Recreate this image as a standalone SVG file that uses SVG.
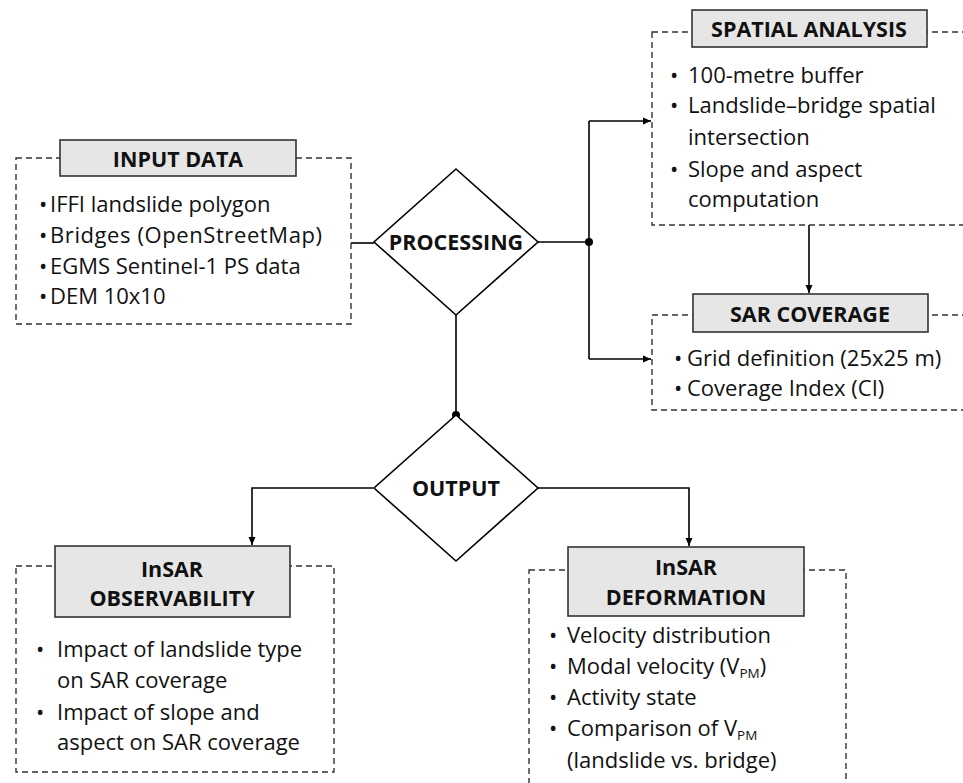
<svg xmlns="http://www.w3.org/2000/svg" width="963" height="783" viewBox="0 0 963 783">
<defs>
<marker id="arr" markerWidth="10" markerHeight="10" refX="9" refY="5" orient="auto" markerUnits="userSpaceOnUse">
<path d="M1,1.5 L9,5 L1,8.5 Z" fill="#000"/>
</marker>
<style>
.dash{fill:none;stroke:#333;stroke-width:1.4;stroke-dasharray:6 4}
.title{fill:#e6e6e6;stroke:#333;stroke-width:1.6}
.tt{font-family:"Open Sans","Noto Sans",sans-serif;font-weight:bold;font-size:21.5px;fill:#111;text-anchor:middle}
.tx{font-family:"Open Sans","Noto Sans",sans-serif;font-size:22px;fill:#111}
.dia{fill:#fff;stroke:#000;stroke-width:1.6}
.ln{fill:none;stroke:#000;stroke-width:1.6}
.sub{font-size:13.5px}
</style>
</defs>
<rect width="963" height="783" fill="#fff"/>

<g id="connectors">
<line class="ln" x1="351" y1="243" x2="374" y2="243"/>
<line class="ln" x1="538" y1="242" x2="589" y2="242"/>
<polyline class="ln" points="589,121 589,359"/>
<line class="ln" x1="589" y1="121" x2="651" y2="121" marker-end="url(#arr)"/>
<line class="ln" x1="589" y1="359" x2="651" y2="359" marker-end="url(#arr)"/>
<line class="ln" x1="809" y1="225" x2="809" y2="293" marker-end="url(#arr)"/>
<line class="ln" x1="456" y1="315" x2="456" y2="415"/>
<polyline class="ln" points="373,488 252,488 252,545" marker-end="url(#arr)"/>
<polyline class="ln" points="538,488 689,488 689,546" marker-end="url(#arr)"/>
<circle cx="589" cy="242" r="4" fill="#000"/>
<circle cx="456" cy="415" r="4" fill="#000"/>
</g>

<g id="input-data">
<rect class="dash" x="16" y="158" width="335" height="166"/>
<rect class="title" x="60" y="140" width="236" height="36"/>
<text class="tt" x="178" y="167">INPUT DATA</text>
<text class="tx"><tspan x="39" y="212">•</tspan><tspan x="50" y="212">IFFI landslide polygon</tspan><tspan x="39" y="243">•</tspan><tspan x="50" y="243" textLength="272" lengthAdjust="spacing">Bridges (OpenStreetMap)</tspan><tspan x="39" y="274">•</tspan><tspan x="50" y="274">EGMS Sentinel-1 PS data</tspan><tspan x="39" y="304">•</tspan><tspan x="50" y="304">DEM 10x10</tspan></text>
</g>

<g id="processing">
<polygon class="dia" points="456,169 538,242 456,315 374,242"/>
<text class="tt" x="456" y="250">PROCESSING</text>
</g>

<g id="spatial-analysis">
<rect class="dash" x="652" y="32" width="330" height="193"/>
<rect class="title" x="692" y="10" width="235" height="37"/>
<text class="tt" x="809" y="37">SPATIAL ANALYSIS</text>
<text class="tx"><tspan x="670" y="83">•</tspan><tspan x="688" y="83">100-metre buffer</tspan><tspan x="670" y="113">•</tspan><tspan x="688" y="113">Landslide–bridge spatial</tspan><tspan x="688" y="145">intersection</tspan><tspan x="670" y="177">•</tspan><tspan x="688" y="177">Slope and aspect</tspan><tspan x="688" y="207">computation</tspan></text>
</g>

<g id="sar-coverage">
<rect class="dash" x="652" y="315" width="330" height="95"/>
<rect class="title" x="693" y="294" width="235" height="38"/>
<text class="tt" x="810" y="322">SAR COVERAGE</text>
<text class="tx"><tspan x="674" y="366">•</tspan><tspan x="687" y="366">Grid definition (25x25 m)</tspan><tspan x="674" y="396">•</tspan><tspan x="687" y="396">Coverage Index (CI)</tspan></text>
</g>

<g id="output">
<polygon class="dia" points="456,415 538,488 456,561 374,488"/>
<text class="tt" x="456" y="496">OUTPUT</text>
</g>

<g id="insar-observability">
<rect class="dash" x="16" y="566" width="318" height="206"/>
<rect class="title" x="55" y="546" width="235" height="71"/>
<text class="tt" x="172" y="577">InSAR</text>
<text class="tt" x="172" y="606">OBSERVABILITY</text>
<text class="tx"><tspan x="36" y="657">•</tspan><tspan x="57" y="657">Impact of landslide type</tspan><tspan x="57" y="688">on SAR coverage</tspan><tspan x="36" y="720">•</tspan><tspan x="57" y="720">Impact of slope and</tspan><tspan x="57" y="750">aspect on SAR coverage</tspan></text>
</g>

<g id="insar-deformation">
<rect class="dash" x="529" y="570" width="317" height="230"/>
<rect class="title" x="568" y="547" width="236" height="69"/>
<text class="tt" x="686" y="575">InSAR</text>
<text class="tt" x="686" y="605">DEFORMATION</text>
<text class="tx"><tspan x="549" y="643">•</tspan><tspan x="567" y="643">Velocity distribution</tspan><tspan x="549" y="674">•</tspan><tspan x="567" y="674">Modal velocity (V</tspan><tspan class="sub" dy="4">PM</tspan><tspan dy="-4">)</tspan><tspan x="549" y="705">•</tspan><tspan x="567" y="705">Activity state</tspan><tspan x="549" y="736">•</tspan><tspan x="567" y="736">Comparison of V</tspan><tspan class="sub" dy="4">PM</tspan><tspan x="567" y="768">(landslide vs. bridge)</tspan></text>
</g>
</svg>
